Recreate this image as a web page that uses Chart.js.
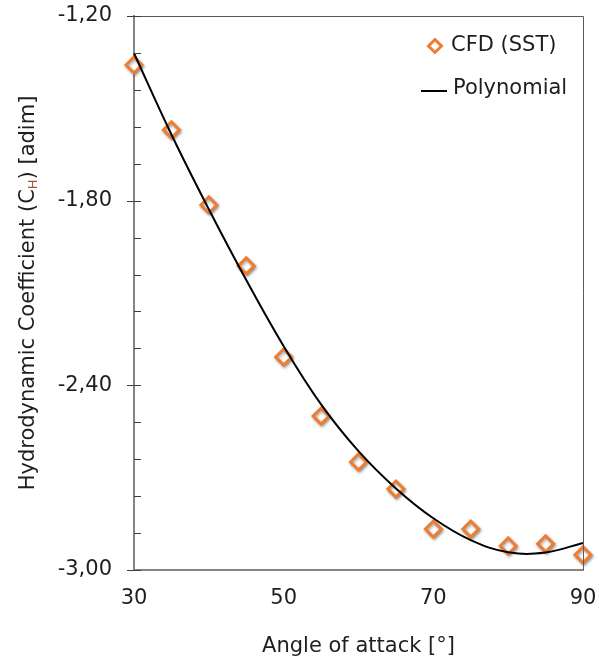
<!DOCTYPE html>
<html>
<head>
<meta charset="utf-8">
<script src="https://cdn.jsdelivr.net/npm/chart.js@4/dist/chart.umd.min.js"></script>
<style>
  html, body { margin: 0; padding: 0; background: #ffffff; }
  #wrap { width: 608px; height: 660px; position: relative; }
</style>
</head>
<body>
<div id="wrap"><canvas id="c" width="608" height="660"></canvas></div>
<script>
// ---- Data ----
const angles = [30, 35, 40, 45, 50, 55, 60, 65, 70, 75, 80, 85, 90];
const cfdSST = [-1.359, -1.570, -1.814, -2.012, -2.308, -2.500, -2.649, -2.737, -2.867, -2.867, -2.922, -2.915, -2.951];
const polynomial = [-1.321, -1.585, -1.828, -2.058, -2.273, -2.462, -2.614, -2.735, -2.832, -2.903, -2.942, -2.943, -2.912];
const xTicks = [30, 50, 70, 90];
const yMajorTicks = [-3.00, -2.40, -1.80, -1.20];
const seriesNames = ['CFD (SST)', 'Polynomial'];
const xTitle = 'Angle of attack [°]';
const yTitleParts = ['Hydrodynamic Coefficient (C', 'H', ') [adim]'];

const FONT = 'DejaVu Sans, Verdana, sans-serif';
const TXT = '#1e1e1e';
const ORANGE = '#ED7D31';

const toPts = (xs, ys) => xs.map((x, i) => ({ x: x, y: ys[i] }));
const isMajor = v => yMajorTicks.some(m => Math.abs(m - v) < 1e-6);

const framePlugin = {
  id: 'frame',
  beforeDatasetDraw(chart, args) {
    if (args.index === 1) {
      const ctx = chart.ctx;
      ctx.save();
      ctx.shadowColor = 'rgba(0,0,0,0.35)';
      ctx.shadowBlur = 3;
      ctx.shadowOffsetX = 1;
      ctx.shadowOffsetY = 1.5;
    }
  },
  afterDatasetDraw(chart, args) {
    if (args.index === 1) chart.ctx.restore();
  },
  afterDraw(chart) {
    const ctx = chart.ctx;
    const a = chart.chartArea;
    const ys = chart.scales.y;
    ctx.save();
    // top & right frame
    ctx.strokeStyle = '#5a5a5a';
    ctx.lineWidth = 1;
    ctx.beginPath();
    ctx.moveTo(a.left, a.top + 0.5);
    ctx.lineTo(a.right + 0.5, a.top + 0.5);
    ctx.lineTo(a.right + 0.5, a.bottom);
    ctx.stroke();
    // y tick marks (major cross the axis, minor inside)
    ctx.strokeStyle = '#3c3c3c';
    ctx.lineWidth = 1;
    ys.ticks.forEach(t => {
      const py = Math.round(ys.getPixelForValue(t.value)) + 0.5;
      ctx.beginPath();
      if (isMajor(t.value)) {
        ctx.moveTo(a.left - 7, py);
      } else {
        ctx.moveTo(a.left, py);
      }
      ctx.lineTo(a.left + 7, py);
      ctx.stroke();
    });
    // y title with subscript
    ctx.translate(29, (a.top + a.bottom) / 2);
    ctx.rotate(-Math.PI / 2);
    const big = '21px ' + FONT, small = '13px ' + FONT;
    ctx.font = big; const w0 = ctx.measureText(yTitleParts[0]).width;
    const w2 = ctx.measureText(yTitleParts[2]).width;
    ctx.font = small; const w1 = ctx.measureText(yTitleParts[1]).width;
    let x = -(w0 + w1 + w2) / 2;
    ctx.textBaseline = 'middle';
    ctx.textAlign = 'left';
    ctx.font = big; ctx.fillStyle = TXT;
    ctx.fillText(yTitleParts[0], x, 0); x += w0;
    ctx.font = small; ctx.fillStyle = '#a0523c';
    ctx.fillText(yTitleParts[1], x, 5); x += w1;
    ctx.font = big; ctx.fillStyle = TXT;
    ctx.fillText(yTitleParts[2], x, 0);
    ctx.restore();

    // legend
    ctx.save();
    ctx.font = '21px ' + FONT;
    ctx.fillStyle = TXT;
    ctx.textBaseline = 'middle';
    ctx.textAlign = 'left';
    ctx.strokeStyle = ORANGE; ctx.fillStyle = '#ffffff'; ctx.lineWidth = 3;
    const cx = 435, cy = 46, r = 6.5;
    ctx.beginPath();
    ctx.moveTo(cx, cy - r); ctx.lineTo(cx + r, cy); ctx.lineTo(cx, cy + r); ctx.lineTo(cx - r, cy); ctx.closePath();
    ctx.fill(); ctx.stroke();
    ctx.fillStyle = TXT;
    ctx.fillText(seriesNames[0], 451, 46);
    ctx.strokeStyle = '#000000'; ctx.lineWidth = 2;
    ctx.beginPath(); ctx.moveTo(421, 91); ctx.lineTo(447, 91); ctx.stroke();
    ctx.fillText(seriesNames[1], 453, 89);
    ctx.restore();
  }
};

new Chart(document.getElementById('c'), {
  type: 'scatter',
  data: {
    datasets: [
      {
        label: seriesNames[1],
        data: toPts(angles, polynomial),
        showLine: true,
        borderColor: '#000000',
        borderWidth: 2,
        pointRadius: 0,
        tension: 0.4,
        fill: false,
        clip: false,
        order: 0
      },
      {
        label: seriesNames[0],
        data: toPts(angles, cfdSST),
        showLine: false,
        pointStyle: 'rectRot',
        pointRadius: 8,
        pointBorderWidth: 3,
        pointBorderColor: ORANGE,
        pointBackgroundColor: '#ffffff',
        clip: false,
        order: 1
      }
    ]
  },
  options: {
    responsive: false,
    animation: false,
    events: [],
    layout: { padding: { top: 16, right: 25, left: 0, bottom: 0 } },
    plugins: { legend: { display: false }, tooltip: { enabled: false } },
    scales: {
      x: {
        type: 'linear',
        min: 30, max: 90,
        afterFit: s => { s.height = 90; s.paddingLeft = 0; s.paddingRight = 0; },
        afterBuildTicks: s => { s.ticks = xTicks.map(v => ({ value: v })); },
        grid: { display: false, drawTicks: false },
        border: { display: true, color: '#858585', width: 2 },
        ticks: { color: TXT, font: { family: FONT, size: 21 }, padding: 16, autoSkip: false, maxRotation: 0 },
        title: { display: true, text: xTitle, color: TXT, font: { family: FONT, size: 21 }, padding: { top: 0, bottom: 1 } }
      },
      y: {
        type: 'linear',
        min: -3.0, max: -1.2,
        afterFit: s => { s.width = 134; s.paddingTop = 0; s.paddingBottom = 0; },
        ticks: {
          stepSize: 0.12,
          autoSkip: false,
          color: TXT,
          font: { family: FONT, size: 21 },
          padding: 22,
          callback: v => isMajor(v) ? v.toFixed(2).replace('.', ',') : ''
        },
        grid: { display: false, drawTicks: false },
        border: { display: true, color: '#858585', width: 2 }
      }
    }
  },
  plugins: [framePlugin]
});
</script>
</body>
</html>
